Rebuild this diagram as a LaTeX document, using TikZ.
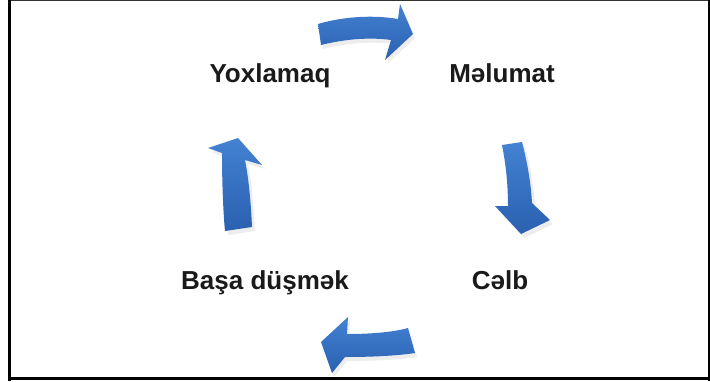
\documentclass[tikz,border=0pt]{standalone}
\usepackage{fontspec}
\setmainfont{Liberation Sans}
\definecolor{arrowlight}{HTML}{4482D2}
\definecolor{arrowdark}{HTML}{2A60B0}
\definecolor{txt}{HTML}{1A1A1A}
\begin{document}
\begin{tikzpicture}[x=1pt,y=-1pt,
  lbl/.style={font=\fontsize{26}{31}\selectfont\bfseries, text=txt, anchor=base, inner sep=0pt},
  blk/.style={top color=arrowlight, bottom color=arrowdark, draw=none},
  shd/.style={fill=black, opacity=0.07},
  toparrow/.style={insert path={(318,24) .. controls (345,16) and (375,15) .. (398,19) -- (400,4) -- (413,34) -- (385,60) -- (391,40) .. controls (370,37) and (345,39) .. (321,45) -- cycle}},
  rightarrow/.style={insert path={(502,145) -- (522,142) .. controls (528,165) and (531,185) .. (532,203) -- (550,220) -- (521,234) -- (495,206) -- (508,206) .. controls (508,185) and (506,165) .. (502,145) -- cycle}},
  bottomarrow/.style={insert path={(408,328) .. controls (390,333) and (365,334) .. (347,334) -- (348,317) -- (321,342) -- (332,373) -- (345,357) .. controls (370,357) and (395,356) .. (415,353) -- cycle}},
  leftarrow/.style={insert path={(238,138) -- (262,165) -- (245,160) .. controls (249,180) and (251,205) .. (252,227) -- (225,231) .. controls (223,210) and (222,180) .. (222,153) -- (208,148) -- cycle}}
]
\useasboundingbox (0,0) rectangle (710,381);
\fill[white] (0,0) rectangle (710,381);
% frame
\draw[line width=1.2pt, black!80] (9,0.6) -- (709,0.6);
\draw[line width=2.6pt] (9.3,0) -- (9.3,381);
\draw[line width=3pt] (8,378.5) -- (710,378.5);
\draw[line width=1.5pt] (708.8,0) -- (708.8,381);
% shadows
\fill[shd, shift={(2,4)}, toparrow];
\fill[shd, shift={(3,4)}, rightarrow];
\fill[shd, shift={(2,4)}, bottomarrow];
\fill[shd, shift={(3,4)}, leftarrow];
% arrows
\path[blk, toparrow];
\path[blk, rightarrow];
\path[blk, bottomarrow];
\path[blk, leftarrow];
% labels
\node[lbl] (yox) at (270,82) {Yoxlamaq};
\node[lbl] (mel) at (502,82) {Məlumat};
\node[lbl] (basa) at (265,289) {Başa düşmək};
\node[lbl] (celb) at (500,289) {Cəlb};
\end{tikzpicture}
\end{document}
